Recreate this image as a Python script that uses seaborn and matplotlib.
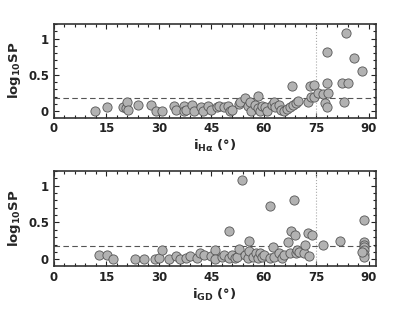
import numpy as np
import pandas as pd
import matplotlib
matplotlib.use('Agg')
import matplotlib.pyplot as plt
import seaborn as sns
from matplotlib.ticker import MultipleLocator

# Inclination from H-alpha vs log10 SP (top panel)
i_halpha = [11.7, 15.3, 19.8, 20.5, 20.8, 21.2, 24.1, 27.7, 29.1, 30.8,
            34.4, 35.0, 37.1, 37.2, 37.8, 39.6, 40.1, 42.0, 42.5, 44.1,
            44.9, 46.5, 47.1, 48.5, 49.9, 50.4, 50.8, 52.8, 53.3, 54.7,
            55.5, 56.0, 56.4, 57.6, 58.4, 58.5, 59.0, 59.5, 60.5, 61.0,
            62.4, 62.9, 63.3, 64.3, 65.0, 65.8, 66.8, 67.6, 68.1, 68.3,
            69.1, 69.8, 72.7, 73.3, 73.4, 74.3, 74.5, 75.4, 76.9, 77.6,
            78.2, 78.2, 78.2, 78.4, 82.4, 83.0, 83.4, 84.1, 85.8, 88.0]
sp_halpha = [0.00, 0.05, 0.05, 0.04, 0.12, 0.01, 0.08, 0.08, 0.00, 0.00,
             0.07, 0.01, 0.07, 0.00, 0.02, 0.08, 0.00, 0.06, 0.00, 0.07,
             0.02, 0.06, 0.07, 0.05, 0.07, 0.00, 0.02, 0.10, 0.13, 0.18,
             0.07, 0.12, 0.00, 0.08, 0.21, 0.04, 0.00, 0.07, 0.06, 0.00,
             0.08, 0.12, 0.05, 0.08, 0.02, 0.00, 0.03, 0.05, 0.34, 0.08,
             0.11, 0.14, 0.12, 0.34, 0.19, 0.19, 0.36, 0.25, 0.24, 0.11,
             0.05, 0.39, 0.81, 0.25, 0.39, 0.12, 1.08, 0.39, 0.73, 0.55]

# Inclination from gravity darkening vs log10 SP (bottom panel)
i_gd = [13.0, 15.1, 17.0, 23.2, 25.8, 28.9, 30.1, 30.9, 33.0, 34.9,
        36.1, 37.8, 38.8, 40.9, 41.8, 42.8, 45.0, 46.0, 46.1, 48.0,
        48.7, 50.0, 50.0, 50.9, 51.7, 52.5, 52.9, 53.9, 54.7, 55.4,
        55.8, 55.9, 56.9, 57.9, 58.3, 59.0, 59.5, 60.2, 61.7, 61.9,
        62.8, 63.0, 64.5, 65.2, 65.9, 66.9, 67.6, 67.8, 68.8, 69.0,
        69.1, 69.5, 70.2, 71.6, 71.9, 72.6, 72.9, 73.8, 76.9, 81.8,
        88.8, 88.8, 88.8, 88.8, 88.8, 88.8, 88.8, 88.2]
sp_gd = [0.06, 0.06, 0.00, 0.00, 0.00, 0.00, 0.02, 0.12, 0.00, 0.04,
         0.00, 0.01, 0.05, 0.01, 0.08, 0.06, 0.04, 0.12, 0.00, 0.03,
         0.06, 0.39, 0.01, 0.06, 0.01, 0.03, 0.14, 1.08, 0.06, 0.02,
         0.25, 0.11, 0.03, 0.08, 0.01, 0.09, 0.03, 0.06, 0.73, 0.01,
         0.16, 0.03, 0.08, 0.01, 0.06, 0.23, 0.08, 0.39, 0.81, 0.33,
         0.08, 0.12, 0.10, 0.08, 0.19, 0.36, 0.04, 0.33, 0.19, 0.25,
         0.54, 0.24, 0.20, 0.16, 0.12, 0.07, 0.03, 0.10]

sp_threshold = 0.18
i_cut = 75
x_ticks = [0, 15, 30, 45, 60, 75, 90]

sns.set_style("ticks")
plt.rcParams['font.family'] = ['DejaVu Sans']
plt.rcParams['font.weight'] = 'bold'
plt.rcParams['mathtext.default'] = 'bf'

fig = plt.figure(figsize=(4.15, 3.12), dpi=100)
ax_top = fig.add_axes([0.130, 0.623, 0.775, 0.300])
ax_bot = fig.add_axes([0.130, 0.148, 0.775, 0.304])

panels = [
    (ax_top, i_halpha, sp_halpha, r'i$_{\mathbf{H}\alpha}$ (°)'),
    (ax_bot, i_gd, sp_gd, r'i$_{\mathbf{GD}}$ (°)'),
]

for ax, xs, ys, xlabel in panels:
    df = pd.DataFrame({"i": xs, "sp": ys})
    ax.axhline(sp_threshold, color="#555555", ls=(0, (5, 3)), lw=0.8, zorder=1)
    ax.axvline(i_cut, color="#aaaaaa", ls=":", lw=0.8, zorder=1)
    sns.scatterplot(data=df, x="i", y="sp", ax=ax, s=44, color="#b2b2b2",
                    edgecolor="#555555", linewidth=0.6, zorder=3)
    ax.set_xlim(0, 92)
    ax.set_ylim(-0.09, 1.2)
    ax.set_xticks(x_ticks)
    ax.set_yticks([0, 0.5, 1])
    ax.set_yticklabels(["0", "0.5", "1"])
    ax.xaxis.set_minor_locator(MultipleLocator(3))
    ax.yaxis.set_minor_locator(MultipleLocator(0.1))
    ax.tick_params(which="both", direction="in", top=True, right=True,
                   labelsize=8.5, colors="#222222", width=0.8)
    ax.tick_params(which="major", length=3.5)
    ax.tick_params(which="minor", length=2)
    for lbl in ax.get_xticklabels() + ax.get_yticklabels():
        lbl.set_fontweight("bold")
    for sp in ax.spines.values():
        sp.set_linewidth(1.2)
        sp.set_color("#333333")
    ax.set_xlabel(xlabel, fontsize=9.5, fontweight="bold", labelpad=2)
    ax.set_ylabel(r'log$_{\mathbf{10}}$SP', fontsize=9.5, fontweight="bold", labelpad=4)

fig.savefig("out.png", dpi=100)
plt.close(fig)
